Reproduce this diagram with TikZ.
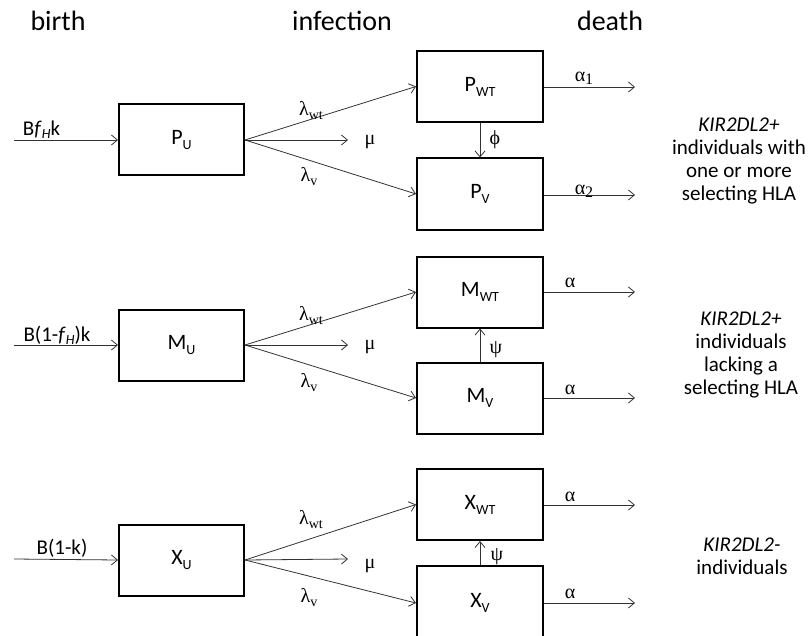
\documentclass[tikz,border=0pt]{standalone}
\usepackage{fontspec}
\setmainfont{Carlito}
\newfontfamily\gr{Liberation Serif}
\usetikzlibrary{arrows.meta}
\newcommand\sbx[1]{\raisebox{-5pt}{\fontsize{14}{14}\selectfont #1}}
\newcommand\sgr[1]{\raisebox{-4pt}{\fontsize{14}{14}\selectfont #1}}
\newcommand\ssi[1]{\raisebox{-3pt}{\fontsize{14}{14}\selectfont\itshape #1}}
\begin{document}
\begin{tikzpicture}[x=1pt,y=-1pt,
  box/.style={draw=black, line width=2pt, minimum width=125pt, minimum height=71pt, inner sep=0pt, font=\fontsize{22}{26}\selectfont},
  flow/.style={draw=black!80, line width=0.8pt, -{Straight Barb[length=6pt,width=10pt]}},
  head/.style={anchor=base, inner sep=0pt, font=\fontsize{28}{32}\selectfont},
  lab/.style={inner sep=0pt, font=\fontsize{21}{24}\selectfont},
  glab/.style={inner sep=0pt, font=\fontsize{20}{22}\gr},
  side/.style={align=center, inner sep=0pt, font=\fontsize{21}{22.7}\selectfont}]
\useasboundingbox (0,0) rectangle (810,636);
\clip (0,0) rectangle (810,636);
% headers
\node[head] (hb) at (58,31) {birth};
\node[head] (hi) at (342,31) {infection};
\node[head] (hd) at (610,31) {death};
% boxes
\node[box] (PU) at (181.5,140) {P\sbx{U}};
\node[box] (MU) at (181.5,345) {M\sbx{U}};
\node[box] (XU) at (181.5,560) {X\sbx{U}};
\node[box, minimum width=126pt] (PWT) at (480,86.5) {P\sbx{WT}};
\node[box, minimum width=126pt] (PV) at (480,194) {P\sbx{V}};
\node[box, minimum width=126pt] (MWT) at (480,292) {M\sbx{WT}};
\node[box, minimum width=126pt] (MV) at (480,398) {M\sbx{V}};
\node[box, minimum width=126pt] (XWT) at (480,504.5) {X\sbx{WT}};
\node[box, minimum width=126pt, minimum height=74pt] (XV) at (480,603) {X\sbx{V}};
% coordinates
\coordinate (inP) at (14,140);
\coordinate (inM) at (14,345);
\coordinate (inX) at (14,559);
\coordinate (muP) at (348,140);
\coordinate (muM) at (348,345);
\coordinate (muX) at (348,559);
\coordinate (dPWT) at (635,87);
\coordinate (dPV) at (635,195);
\coordinate (dMWT) at (635,292);
\coordinate (dMV) at (635,398);
\coordinate (dXWT) at (635,505);
\coordinate (dXV) at (635,603);
% births
\draw[flow] (inP) -- (PU.west);
\draw[flow] (inM) -- (MU.west);
\draw[flow] (inX) -- (XU.west);
\node[lab] (lbP) at (41.5,130) {B\textit{f}\ssi{H}k};
\node[lab] (lbM) at (57,335) {B(1-\textit{f}\ssi{H})k};
\node[lab] (lbX) at (62,548) {B(1-k)};
% infections
\foreach \u/\w/\v/\m in {PU/PWT/PV/muP, MU/MWT/MV/muM, XU/XWT/XV/muX}{
  \draw[flow] (\u.east) -- (\w.west);
  \draw[flow] (\u.east) -- (\v.west);
  \draw[flow] (\u.east) -- (\m);
}
\node[glab] (lwP) at (311,111) {λ\sgr{wt}};
\node[glab] (lvP) at (309,177) {λ\sgr{v}};
\node[glab] (muPl) at (370,142) {μ};
\node[glab] (lwM) at (311,316) {λ\sgr{wt}};
\node[glab] (lvM) at (309,383) {λ\sgr{v}};
\node[glab] (muMl) at (370,347) {μ};
\node[glab] (lwX) at (311,520) {λ\sgr{wt}};
\node[glab] (lvX) at (309,598) {λ\sgr{v}};
\node[glab] (muXl) at (370,566) {μ};
% deaths
\draw[flow] (PWT.east |- dPWT) -- (dPWT);
\draw[flow] (PV.east |- dPV) -- (dPV);
\draw[flow] (MWT.east |- dMWT) -- (dMWT);
\draw[flow] (MV.east |- dMV) -- (dMV);
\draw[flow] (XWT.east |- dXWT) -- (dXWT);
\draw[flow] (XV.east |- dXV) -- (dXV);
\node[glab] (a1) at (584,78) {α\raisebox{-3pt}{\fontsize{16}{16}\selectfont 1}};
\node[glab] (a2) at (584,191) {α\raisebox{-3pt}{\fontsize{16}{16}\selectfont 2}};
\node[glab] (a3) at (570,283) {α};
\node[glab] (a4) at (570,390) {α};
\node[glab] (a5) at (570,497) {α};
\node[glab] (a6) at (570,594) {α};
% mutation / reversion
\draw[flow] (PWT.south) -- (PV.north);
\draw[flow] (MV.north) -- (MWT.south);
\draw[flow] (XV.north) -- (XWT.south);
\node[glab] (phi) at (495,140) {ϕ};
\node[glab] (psiM) at (496,350) {ψ};
\node[glab] (psiX) at (497,557) {ψ};
% side texts
\node[side] (sP) at (739,161) {\textit{KIR2DL2+}\\individuals with\\one or more\\selecting HLA};
\node[side] (sM) at (741,355) {\textit{KIR2DL2+}\\individuals\\lacking a\\selecting HLA};
\node[side] (sX) at (742,556.5) {\textit{KIR2DL2-}\\individuals};
\end{tikzpicture}
\end{document}
